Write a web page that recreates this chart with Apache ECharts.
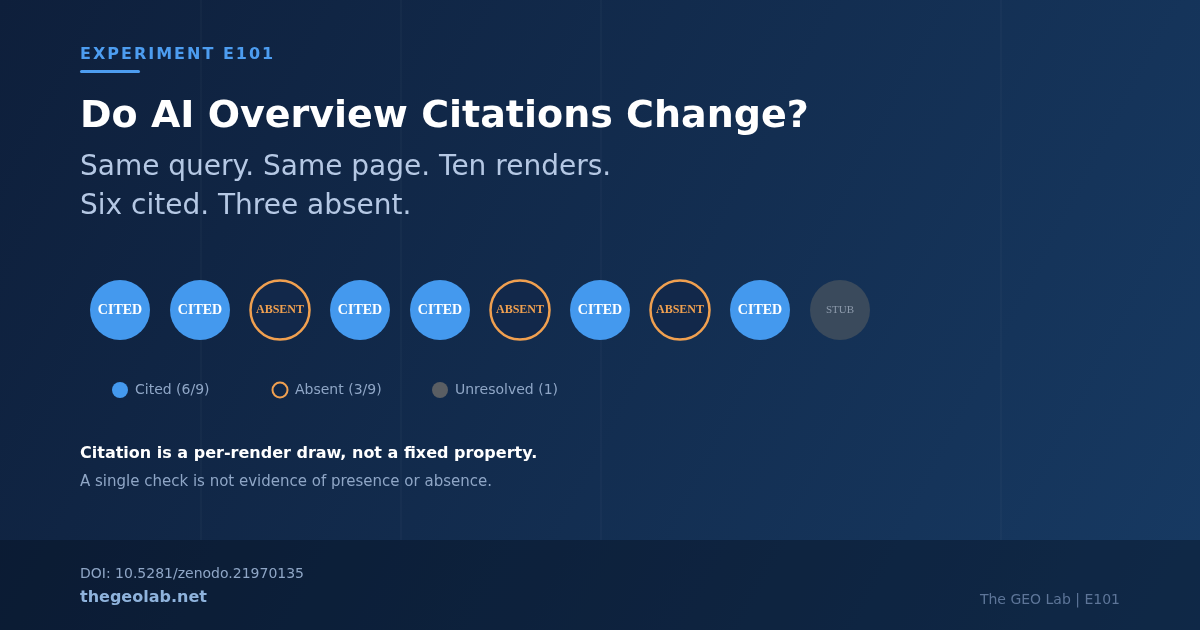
<!DOCTYPE html>
<html style="height: 100%">
<head>
<meta charset="utf-8" />
<title>E101</title>
<script src="https://cdn.jsdelivr.net/npm/echarts@6/dist/echarts.min.js"></script>
</head>
<body style="height: 100%; margin: 0; overflow: hidden">
<div id="container" style="width: 1200px; height: 630px"></div>
<script>
// renders and their outcome
var renders = ["1", "2", "3", "4", "5", "6", "7", "8", "9", "10"];
var outcomes = ["CITED", "CITED", "ABSENT", "CITED", "CITED", "ABSENT", "CITED", "ABSENT", "CITED", "STUB"];
var legendNames = ["Cited (6/9)", "Absent (3/9)", "Unresolved (1)"];

var font = "DejaVu Sans";
var chart = echarts.init(document.getElementById("container"), null, { renderer: "canvas" });

function pick(kind) {
    return renders.map(function (r, i) { return outcomes[i] === kind ? [r, 0, kind] : null; }).filter(Boolean);
}
var lbl = { show: true, formatter: function (p) { return p.value[2]; }, fontFamily: "Liberation Serif", fontWeight: "bold" };

// faint vertical stripes
var stripes = [200, 400, 600, 1000].map(function (x) {
    return { type: "rect", shape: { x: x, y: 0, width: 2, height: 540 }, style: { fill: "rgba(255,255,255,0.025)" }, silent: true };
});

// letter-spaced eyebrow, one glyph per element
function spaced(str, x, y, f, fill, gap) {
    var ctx = document.createElement("canvas").getContext("2d");
    ctx.font = f;
    var out = [];
    for (var i = 0; i < str.length; i++) {
        out.push({ type: "text", x: x, y: y, style: { text: str[i], fill: fill, font: f } });
        x += ctx.measureText(str[i]).width + gap;
    }
    return out;
}

function legendItem(x, sym, name) {
    return [
        { type: "circle", shape: { cx: x, cy: 390, r: sym.r }, style: sym.style },
        { type: "text", x: x + 15, y: 390, style: { text: name, fill: "#8fa6c6", font: "14px " + font, textVerticalAlign: "middle" } }
    ];
}

var option = {
    backgroundColor: {
        type: "linear", x: 0, y: 0, x2: 1, y2: 1,
        colorStops: [{ offset: 0, color: "#0e1f3b" }, { offset: 1, color: "#173a63" }]
    },
    grid: { left: 80, width: 800, top: 250, height: 120 },
    xAxis: { type: "category", data: renders, show: false },
    yAxis: { type: "value", min: -1, max: 1, show: false },
    series: [
        { type: "scatter", data: pick("CITED"), symbolSize: 60, itemStyle: { color: "#4499ee", opacity: 1 },
          label: Object.assign({}, lbl, { color: "#ffffff", fontSize: 14 }) },
        { type: "scatter", data: pick("ABSENT"), symbolSize: 59, itemStyle: { color: "#12284a", borderColor: "#f0a050", borderWidth: 2.5, opacity: 1 },
          label: Object.assign({}, lbl, { color: "#f0a050", fontSize: 12 }) },
        { type: "scatter", data: pick("STUB"), symbolSize: 60, itemStyle: { color: "#3a4a5c", opacity: 1 },
          label: Object.assign({}, lbl, { color: "#8d9aab", fontSize: 11, fontWeight: "normal" }) }
    ],
    graphic: stripes.concat([
        { type: "rect", shape: { x: 0, y: 540, width: 1200, height: 90 }, style: { fill: "rgba(5,15,30,0.4)" } },
        { type: "rect", shape: { x: 80, y: 70, width: 60, height: 3, r: 1.5 }, style: { fill: "#4d9df0" } },
        { type: "text", x: 80, y: 98, style: { text: "Do AI Overview Citations Change?", fill: "#ffffff", font: "bold 38px " + font } },
        { type: "text", x: 80, y: 154, style: { text: "Same query. Same page. Ten renders.", fill: "#b5c8e4", font: "28px " + font } },
        { type: "text", x: 80, y: 193, style: { text: "Six cited. Three absent.", fill: "#b5c8e4", font: "28px " + font } },
        { type: "text", x: 80, y: 446, style: { text: "Citation is a per-render draw, not a fixed property.", fill: "#ffffff", font: "bold 16px " + font } },
        { type: "text", x: 80, y: 475, style: { text: "A single check is not evidence of presence or absence.", fill: "#8fa6c6", font: "15px " + font } },
        { type: "text", x: 80, y: 567, style: { text: "DOI: 10.5281/zenodo.21970135", fill: "#8fa6c6", font: "14px " + font } },
        { type: "text", x: 80, y: 590, style: { text: "thegeolab.net", fill: "#8fb3dc", font: "bold 16px " + font } },
        { type: "text", x: 1120, y: 593, style: { text: "The GEO Lab | E101", fill: "#5d7598", font: "14px " + font, textAlign: "right" } }
    ]).concat(
        spaced("EXPERIMENT E101", 80, 47, "bold 16px " + font, "#4d9df0", 2),
        legendItem(120, { r: 8, style: { fill: "#4499ee" } }, legendNames[0]),
        legendItem(280, { r: 7.5, style: { fill: "none", stroke: "#f0a050", lineWidth: 2 } }, legendNames[1]),
        legendItem(440, { r: 8, style: { fill: "#5a5e63" } }, legendNames[2])
    )
};
chart.setOption(option);
</script>
</body>
</html>
